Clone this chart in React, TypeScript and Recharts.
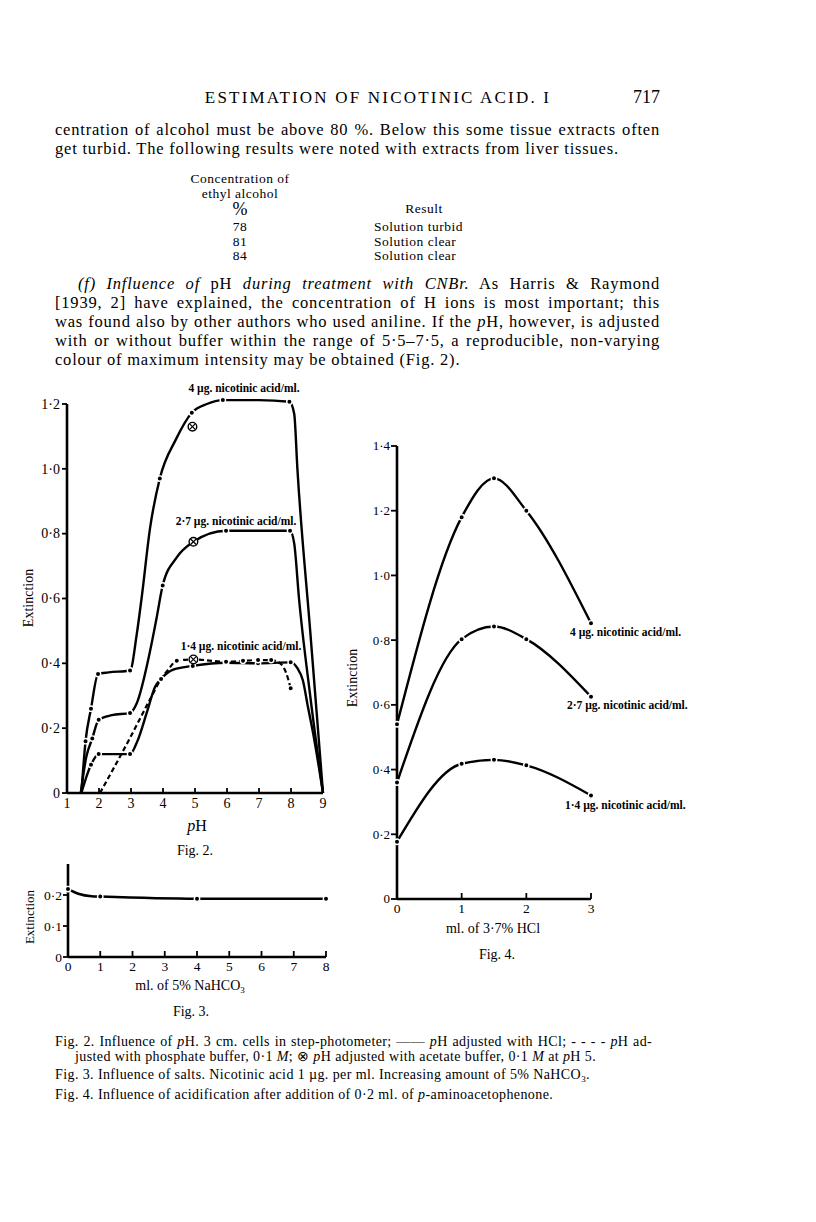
import React from 'react';
import { ComposedChart, Line, Scatter, XAxis, YAxis, ReferenceLine } from 'recharts';

const FONT = '"Liberation Serif", "Times New Roman", serif';

type Pt = { x: number; y: number };

// ---- Fig. 2: extinction against pH ----
const phTicks = [1, 2, 3, 4, 5, 6, 7, 8, 9];
const fig2YTicks = [0, 0.2, 0.4, 0.6, 0.8, 1.0, 1.2];

const hcl4Curve: Pt[] = [
  { x: 1.45, y: 0 }, { x: 1.58, y: 0.16 }, { x: 1.75, y: 0.26 }, { x: 1.97, y: 0.367 },
  { x: 2.3, y: 0.372 }, { x: 2.97, y: 0.378 }, { x: 3.18, y: 0.49 }, { x: 3.33, y: 0.6 },
  { x: 3.6, y: 0.82 }, { x: 3.9, y: 0.97 }, { x: 4.4, y: 1.09 },
  { x: 4.9, y: 1.173 }, { x: 5.37, y: 1.2 }, { x: 5.87, y: 1.212 }, { x: 7.0, y: 1.212 },
  { x: 7.95, y: 1.207 }, { x: 8.1, y: 1.17 }, { x: 8.2, y: 1.0 }, { x: 8.6, y: 0.5 }, { x: 9, y: 0 },
];
const hcl4Dots: Pt[] = [
  { x: 1.58, y: 0.16 }, { x: 1.75, y: 0.26 }, { x: 1.97, y: 0.367 }, { x: 2.97, y: 0.378 },
  { x: 3.9, y: 0.97 }, { x: 4.9, y: 1.173 }, { x: 5.87, y: 1.212 }, { x: 7.95, y: 1.207 },
];

const hcl27Curve: Pt[] = [
  { x: 1.43, y: 0 }, { x: 1.6, y: 0.11 }, { x: 1.79, y: 0.168 }, { x: 1.99, y: 0.226 },
  { x: 2.4, y: 0.24 }, { x: 2.97, y: 0.247 }, { x: 3.18, y: 0.277 }, { x: 3.6, y: 0.44 },
  { x: 3.8, y: 0.54 }, { x: 3.99, y: 0.64 }, { x: 4.43, y: 0.727 }, { x: 4.95, y: 0.775 },
  { x: 5.97, y: 0.809 }, { x: 7.97, y: 0.809 }, { x: 8.1, y: 0.77 }, { x: 8.25, y: 0.6 },
  { x: 8.6, y: 0.3 }, { x: 9, y: 0 },
];
const hcl27Dots: Pt[] = [
  { x: 1.79, y: 0.168 }, { x: 1.99, y: 0.226 }, { x: 2.97, y: 0.247 },
  { x: 3.99, y: 0.64 }, { x: 5.97, y: 0.809 }, { x: 7.97, y: 0.809 },
];

const hcl14Curve: Pt[] = [
  { x: 1.45, y: 0 }, { x: 1.75, y: 0.087 }, { x: 1.99, y: 0.12 }, { x: 2.97, y: 0.12 },
  { x: 3.2, y: 0.16 }, { x: 3.5, y: 0.25 }, { x: 3.75, y: 0.327 }, { x: 3.94, y: 0.352 },
  { x: 4.3, y: 0.38 }, { x: 4.93, y: 0.392 }, { x: 5.97, y: 0.402 }, { x: 6.97, y: 0.4 },
  { x: 7.99, y: 0.403 }, { x: 8.2, y: 0.385 }, { x: 8.37, y: 0.348 }, { x: 8.53, y: 0.265 },
  { x: 8.69, y: 0.185 }, { x: 9, y: 0 },
];
const hcl14Dots: Pt[] = [
  { x: 1.75, y: 0.087 }, { x: 1.99, y: 0.12 }, { x: 2.97, y: 0.12 }, { x: 3.94, y: 0.352 },
  { x: 4.93, y: 0.392 }, { x: 5.97, y: 0.402 }, { x: 6.97, y: 0.4 }, { x: 7.99, y: 0.403 },
];

// phosphate buffer (dashed)
const phosCurve: Pt[] = [
  { x: 2.03, y: 0 }, { x: 2.97, y: 0.17 }, { x: 3.6, y: 0.29 }, { x: 3.94, y: 0.352 },
  { x: 4.16, y: 0.38 }, { x: 4.43, y: 0.408 }, { x: 4.95, y: 0.412 }, { x: 5.97, y: 0.405 },
  { x: 6.97, y: 0.41 }, { x: 7.38, y: 0.41 }, { x: 7.66, y: 0.4 }, { x: 7.85, y: 0.37 },
  { x: 7.99, y: 0.323 },
];
const phosDots: Pt[] = [
  { x: 4.43, y: 0.408 }, { x: 5.97, y: 0.405 }, { x: 6.5, y: 0.408 }, { x: 6.97, y: 0.41 },
  { x: 7.38, y: 0.41 }, { x: 7.99, y: 0.323 },
];

// acetate buffer at pH 5
const acetatePts: Pt[] = [{ x: 4.92, y: 1.13 }, { x: 4.95, y: 0.775 }, { x: 4.95, y: 0.412 }];

// ---- Fig. 3: extinction against ml. of 5% NaHCO3 ----
const naTicks = [0, 1, 2, 3, 4, 5, 6, 7, 8];
const fig3YTicks = [0, 0.1, 0.2];
const naCurve: Pt[] = [
  { x: 0, y: 0.219 }, { x: 0.32, y: 0.204 }, { x: 0.73, y: 0.196 }, { x: 1, y: 0.195 },
  { x: 4, y: 0.188 }, { x: 8, y: 0.188 },
];
const naDots: Pt[] = [{ x: 0, y: 0.219 }, { x: 1, y: 0.195 }, { x: 4, y: 0.188 }, { x: 8, y: 0.188 }];

// ---- Fig. 4: extinction against ml. of 3.7% HCl ----
const hclMlTicks = [0, 1, 2, 3];
const fig4YTicks = [0, 0.2, 0.4, 0.6, 0.8, 1.0, 1.2, 1.4];
const f4conc4: Pt[] = [{ x: 0, y: 0.54 }, { x: 1, y: 1.18 }, { x: 1.5, y: 1.3 }, { x: 2, y: 1.2 }, { x: 3, y: 0.852 }];
const f4conc27: Pt[] = [{ x: 0, y: 0.36 }, { x: 1, y: 0.803 }, { x: 1.5, y: 0.842 }, { x: 2, y: 0.803 }, { x: 3, y: 0.625 }];
const f4conc14: Pt[] = [{ x: 0, y: 0.177 }, { x: 1, y: 0.418 }, { x: 1.5, y: 0.43 }, { x: 2, y: 0.413 }, { x: 3, y: 0.32 }];

const fmtDec = (v: number) => (v === 0 ? '0' : v.toFixed(1).replace('.', '·'));

const xTick = (size: number, up: number, dy: number) => (p: any) => (
  <g>
    {up > 0 && <line x1={p.x} x2={p.x} y1={p.y} y2={p.y - up} stroke="#000" strokeWidth={1.8} />}
    <text x={p.x} y={p.y + dy} textAnchor="middle" fontFamily={FONT} fontSize={size} fill="#000">
      {p.payload.value}
    </text>
  </g>
);

const yTick = (size: number, len: number, gap: number) => (p: any) => (
  <g>
    <line x1={p.x - len} x2={p.x} y1={p.y} y2={p.y} stroke="#000" strokeWidth={1.8} />
    <text x={p.x - len - gap} y={p.y + size * 0.34} textAnchor="end" fontFamily={FONT} fontSize={size} fill="#000">
      {fmtDec(p.payload.value)}
    </text>
  </g>
);

const dot = (p: any) => <circle cx={p.cx} cy={p.cy} r={2.7} fill="#000" stroke="#fff" strokeWidth={1.4} />;
const otimes = (p: any) => {
  const r = 4.3;
  const d = r * 0.7;
  return (
    <g>
      <circle cx={p.cx} cy={p.cy} r={r} fill="#fff" stroke="#000" strokeWidth={1.4} />
      <line x1={p.cx - d} y1={p.cy - d} x2={p.cx + d} y2={p.cy + d} stroke="#000" strokeWidth={1.2} />
      <line x1={p.cx - d} y1={p.cy + d} x2={p.cx + d} y2={p.cy - d} stroke="#000" strokeWidth={1.2} />
    </g>
  );
};

const curve = (data: Pt[], key: string, dash?: string, w = 2.4) => (
  <Line
    key={key}
    data={data}
    dataKey="y"
    type="monotone"
    stroke="#000"
    strokeWidth={w}
    strokeDasharray={dash}
    dot={false}
    activeDot={false}
    isAnimationActive={false}
  />
);

const marks = (data: Pt[], key: string, shape: any = dot) => (
  <Scatter key={key} data={data} dataKey="y" shape={shape} isAnimationActive={false} />
);

function T({ x, y, a = 'l', s = 15, rot, st, children }: any) {
  const tx = a === 'm' ? '-50%' : a === 'r' ? '-100%' : '0';
  return (
    <div
      style={{
        position: 'absolute', left: x, top: y, fontSize: s, lineHeight: 1, whiteSpace: 'nowrap',
        transform: `translate(${tx}, -50%)${rot ? ` rotate(${rot}deg)` : ''}`, ...st,
      }}
    >
      {children}
    </div>
  );
}

// one justified line of running text
function J({ x, y, w, s = 16.5, ls = 0.8, last, children }: any) {
  return (
    <div
      style={{
        position: 'absolute', left: x, top: y, width: w, fontSize: s, lineHeight: 1, letterSpacing: ls,
        whiteSpace: 'nowrap', transform: 'translateY(-50%)', textAlign: 'justify',
        textAlignLast: last ? 'left' : 'justify',
      }}
    >
      {children}
    </div>
  );
}

const lbl = { fontSize: 11.5, fontWeight: 700 };
const tbl = { letterSpacing: 0.5 };
const cap = { letterSpacing: 0.4 };

function Fig2() {
  return (
    <div style={{ position: 'absolute', left: 0, top: 370 }}>
      <ComposedChart width={360} height={460} margin={{ top: 27.5, right: 37, bottom: 7, left: 27 }}>
        <XAxis
          type="number" dataKey="x" domain={[1, 9]} ticks={phTicks} interval={0} height={30}
          axisLine={{ stroke: '#000', strokeWidth: 2.6 }} tickLine={false} tickSize={0} tickMargin={0}
          tick={xTick(14, 5, 15)}
        />
        <YAxis
          type="number" domain={[0, 1.22]} ticks={fig2YTicks} interval={0} width={40}
          axisLine={false} tickLine={false} tickSize={0} tickMargin={0} tick={yTick(14, 5, 2)}
        />
        <ReferenceLine segment={[{ x: 1, y: 0 }, { x: 1, y: 1.2 }]} stroke="#000" strokeWidth={2.6} />
        {curve(hcl4Curve, 'c4')}
        {curve(hcl27Curve, 'c27')}
        {curve(hcl14Curve, 'c14')}
        {curve(phosCurve, 'ph', '5 3', 2.2)}
        {marks(hcl4Dots, 'd4')}
        {marks(hcl27Dots, 'd27')}
        {marks(hcl14Dots, 'd14')}
        {marks(phosDots, 'dph')}
        {marks(acetatePts, 'ac', otimes)}
      </ComposedChart>
    </div>
  );
}

function Fig3() {
  return (
    <div style={{ position: 'absolute', left: 0, top: 850 }}>
      <ComposedChart width={360} height={130} margin={{ top: 14, right: 34, bottom: 3, left: 28 }}>
        <XAxis
          type="number" dataKey="x" domain={[0, 8]} ticks={naTicks} interval={0} height={20}
          axisLine={{ stroke: '#000', strokeWidth: 2.6 }} tickLine={false} tickSize={0} tickMargin={0}
          tick={xTick(13.5, 6, 14)}
        />
        <YAxis
          type="number" domain={[0, 0.3]} ticks={fig3YTicks} interval={0} width={40}
          axisLine={{ stroke: '#000', strokeWidth: 2.6 }} tickLine={false} tickSize={0} tickMargin={0}
          tick={yTick(13.5, 5, 1)}
        />
        {curve(naCurve, 'na')}
        {marks(naDots, 'nad')}
      </ComposedChart>
    </div>
  );
}

function Fig4() {
  return (
    <div style={{ position: 'absolute', left: 340, top: 420 }}>
      <ComposedChart width={320} height={520} margin={{ top: 26, right: 69, bottom: 11, left: 17 }}>
        <XAxis
          type="number" dataKey="x" domain={[0, 3]} ticks={hclMlTicks} interval={0} height={30}
          axisLine={{ stroke: '#000', strokeWidth: 2.6 }} tickLine={false} tickSize={0} tickMargin={0}
          tick={xTick(13.5, 6, 14)}
        />
        <YAxis
          type="number" domain={[0, 1.4]} ticks={fig4YTicks} interval={0} width={40}
          axisLine={{ stroke: '#000', strokeWidth: 2.6 }} tickLine={false} tickSize={0} tickMargin={0}
          tick={yTick(13, 6, 1)}
        />
        {curve(f4conc4, 'a')}
        {curve(f4conc27, 'b')}
        {curve(f4conc14, 'c')}
        {marks(f4conc4, 'ad')}
        {marks(f4conc27, 'bd')}
        {marks(f4conc14, 'cd')}
      </ComposedChart>
    </div>
  );
}

export default function App() {
  return (
    <div
      style={{
        position: 'absolute', left: 0, top: 0, width: 816, height: 1222, background: '#fff',
        fontFamily: FONT, color: '#000', overflow: 'hidden',
      }}
    >
      <T x={378} y={97} a="m" s={17} st={{ letterSpacing: 2.2 }}>ESTIMATION OF NICOTINIC ACID. I</T>
      <T x={660} y={97} a="r" s={18}>717</T>

      <J x={55} y={130} w={605}>centration of alcohol must be above 80 %. Below this some tissue extracts often</J>
      <J x={55} y={149} w={605} last>get turbid. The following results were noted with extracts from liver tissues.</J>

      <T x={240} y={179} a="m" s={13.5} st={tbl}>Concentration of</T>
      <T x={240} y={194} a="m" s={13.5} st={tbl}>ethyl alcohol</T>
      <T x={240} y={209} a="m" s={18}>%</T>
      <T x={424} y={209} a="m" s={13.5} st={tbl}>Result</T>
      <T x={240} y={227} a="m" s={13.5} st={tbl}>78</T>
      <T x={374} y={227} s={13.5} st={tbl}>Solution turbid</T>
      <T x={240} y={242} a="m" s={13.5} st={tbl}>81</T>
      <T x={374} y={242} s={13.5} st={tbl}>Solution clear</T>
      <T x={240} y={256} a="m" s={13.5} st={tbl}>84</T>
      <T x={374} y={256} s={13.5} st={tbl}>Solution clear</T>

      <J x={78} y={284} w={582}>
        <i>(f) Influence of </i>pH<i> during treatment with CNBr.</i> As Harris &amp; Raymond
      </J>
      <J x={55} y={303} w={605}>[1939, 2] have explained, the concentration of H ions is most important; this</J>
      <J x={55} y={322} w={605}>was found also by other authors who used aniline. If the <i>p</i>H, however, is adjusted</J>
      <J x={55} y={341} w={605}>with or without buffer within the range of 5·5–7·5, a reproducible, non-varying</J>
      <J x={55} y={360} w={605} last>colour of maximum intensity may be obtained (Fig. 2).</J>

      <Fig2 />
      <T x={244} y={389} a="m" st={lbl}>4 µg. nicotinic acid/ml.</T>
      <T x={236} y={522} a="m" st={lbl}>2·7 µg. nicotinic acid/ml.</T>
      <T x={241} y={647} a="m" st={lbl}>1·4 µg. nicotinic acid/ml.</T>
      <T x={29} y={598} a="m" s={14} rot={-90}>Extinction</T>
      <T x={197} y={826} a="m" s={16}><i>p</i>H</T>
      <T x={195} y={851} a="m" s={14}>Fig. 2.</T>

      <Fig3 />
      <T x={29} y={917} a="m" s={13} rot={-90}>Extinction</T>
      <T x={190} y={987} a="m" s={14}>ml. of 5% NaHCO<sub style={{ fontSize: 9 }}>3</sub></T>
      <T x={191} y={1012} a="m" s={14}>Fig. 3.</T>

      <Fig4 />
      <T x={570} y={633} st={lbl}>4 µg. nicotinic acid/ml.</T>
      <T x={567} y={706} st={lbl}>2·7 µg. nicotinic acid/ml.</T>
      <T x={565} y={806} st={lbl}>1·4 µg. nicotinic acid/ml.</T>
      <T x={353} y={678} a="m" s={14} rot={-90}>Extinction</T>
      <T x={493} y={929} a="m" s={14}>ml. of 3·7% HCl</T>
      <T x={497} y={955} a="m" s={14}>Fig. 4.</T>

      <J x={55} y={1042} w={597} s={14} ls={0.35}>
        Fig. 2. Influence of <i>p</i>H. 3 cm. cells in step-photometer; —— <i>p</i>H adjusted with HCl; - - - - <i>p</i>H ad-
      </J>
      <T x={75} y={1057} s={14} st={cap}>
        justed with phosphate buffer, 0·1 <i>M</i>; ⊗ <i>p</i>H adjusted with acetate buffer, 0·1 <i>M</i> at <i>p</i>H 5.
      </T>
      <T x={55} y={1076} s={14} st={cap}>
        Fig. 3. Influence of salts. Nicotinic acid 1 µg. per ml. Increasing amount of 5% NaHCO<sub style={{ fontSize: 9 }}>3</sub>.
      </T>
      <T x={55} y={1095} s={14} st={cap}>
        Fig. 4. Influence of acidification after addition of 0·2 ml. of <i>p</i>-aminoacetophenone.
      </T>
    </div>
  );
}
